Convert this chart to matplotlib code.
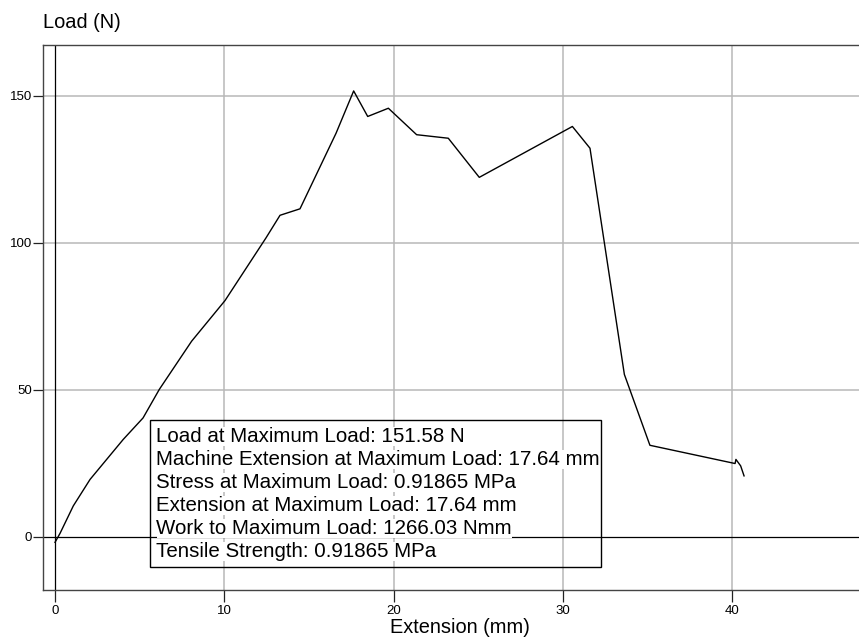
import matplotlib
matplotlib.use("Agg")
import matplotlib.pyplot as plt
from matplotlib.patches import Rectangle

plt.rcParams['font.family'] = ['Liberation Sans', 'DejaVu Sans']

# ---- data ----
extension_mm = [0.0, 0.30, 1.08, 2.07, 3.05, 4.03, 5.20, 6.16, 8.07, 10.04,
                12.46, 13.29, 14.47, 16.60, 17.64, 18.47, 19.69, 21.36, 23.23,
                25.06, 30.56, 31.60, 33.63, 35.14, 40.17, 40.22, 40.50, 40.70]
load_n = [-1.9, 1.2, 10.5, 19.5, 26.3, 33.1, 40.4, 50.1, 66.5, 80.3,
          101.6, 109.3, 111.5, 137.2, 151.58, 142.9, 145.7, 136.7, 135.5,
          122.2, 139.5, 132.1, 55.2, 31.1, 24.9, 26.3, 24.1, 20.7]

x_ticks = [0, 10, 20, 30, 40]
y_ticks = [0, 50, 100, 150]
x_label = "Extension (mm)"
y_label = "Load (N)"
results = [
    "Load at Maximum Load: 151.58 N",
    "Machine Extension at Maximum Load: 17.64 mm",
    "Stress at Maximum Load: 0.91865 MPa",
    "Extension at Maximum Load: 17.64 mm",
    "Work to Maximum Load: 1266.03 Nmm",
    "Tensile Strength: 0.91865 MPa",
]

W, H = 859, 639
fig = plt.figure(figsize=(W / 100, H / 100), dpi=100)

def fx(px):
    return px / W

def fy(py):
    return 1 - py / H

ax = fig.add_axes([fx(43), fy(590), fx(859) - fx(43), fy(45) - fy(590)])
ax.set_xlim(-0.71, 47.49)
ax.set_ylim(-18.1, 167.2)

grid_c = '#b8b8b8'
for xv in x_ticks:
    if xv != 0:
        ax.axvline(xv, color=grid_c, lw=1.1, zorder=1)
for yv in y_ticks:
    if yv != 0:
        ax.axhline(yv, color=grid_c, lw=1.1, zorder=1)
ax.axvline(0, color='black', lw=0.9, zorder=2)
ax.axhline(0, color='black', lw=0.9, zorder=2)

ax.plot(extension_mm, load_n, color='black', lw=1.0, zorder=3)

ax.set_xticks(x_ticks)
ax.set_yticks(y_ticks)
ax.tick_params(axis='x', direction='out', length=8.6, width=0.9, color='#222222',
               labelsize=9.5, pad=2)
ax.tick_params(axis='y', direction='out', length=7.2, width=0.9, color='#222222',
               labelsize=9.5, pad=0.5)
for s in ['left', 'top', 'bottom']:
    ax.spines[s].set_color('#444444')
    ax.spines[s].set_linewidth(1.0)
ax.spines['right'].set_visible(False)

# axis titles
fig.text(fx(43), fy(27.5), y_label, fontsize=14.4, ha='left', va='baseline')
fig.text(fx(390), fy(633), x_label, fontsize=14.4, ha='left', va='baseline')

# results box
fig.add_artist(Rectangle((fx(150), fy(566.7)), fx(601) - fx(150), fy(420) - fy(566.7),
                         transform=fig.transFigure, fill=False, edgecolor='black',
                         lw=1.0, zorder=6))
for i, line in enumerate(results):
    fig.text(fx(156.5), fy(436.7 + 23 * i), line, fontsize=14.8, ha='left',
             va='center', zorder=5,
             bbox=dict(facecolor='white', edgecolor='none', pad=0))

fig.savefig('out.png', dpi=100)
